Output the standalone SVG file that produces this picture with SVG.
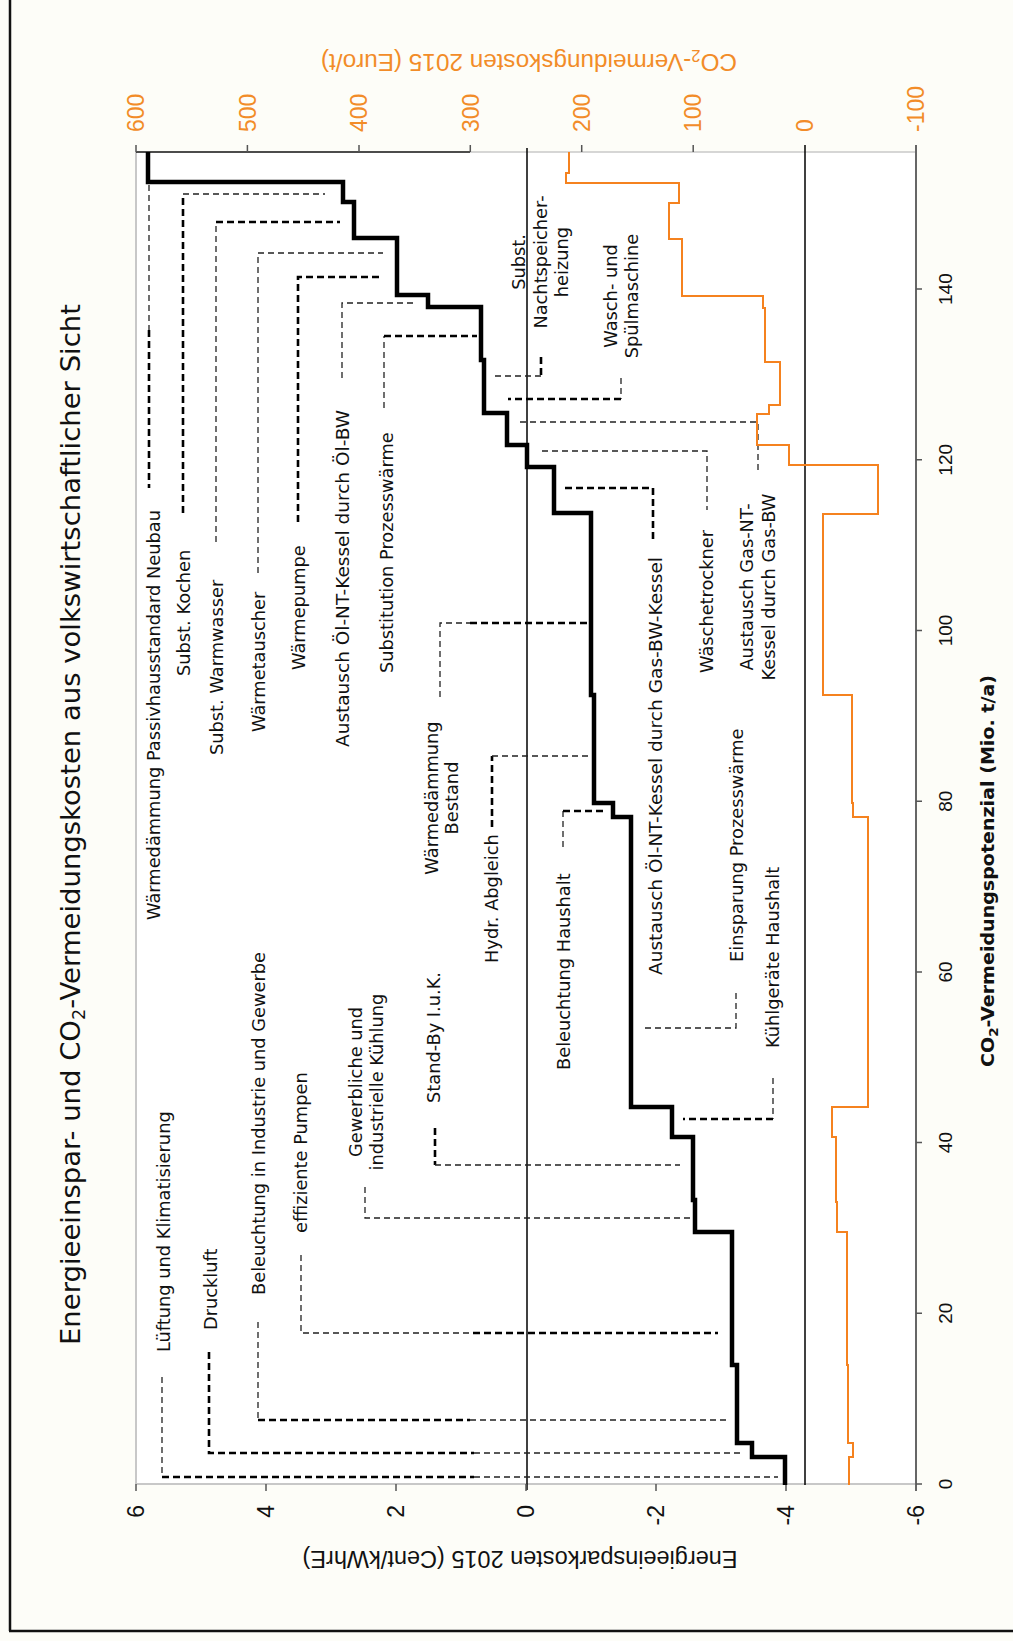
<svg xmlns="http://www.w3.org/2000/svg" width="1013" height="1641" viewBox="0 0 1013 1641">
<style>
.lbl{font-family:"DejaVu Sans",Verdana,sans-serif;font-size:17.8px;fill:#111}
.ttl{font-family:"DejaVu Sans",Verdana,sans-serif;font-size:26.5px;fill:#111}
.xt{font-family:"Liberation Sans",Arial,sans-serif;font-size:19px;fill:#111;text-anchor:middle}
.et{font-family:"Liberation Sans",Arial,sans-serif;font-size:23px;fill:#111;text-anchor:end}
.ot{font-family:"Liberation Sans",Arial,sans-serif;font-size:23px;fill:#f28c28}
.dt{fill:none;stroke:#222;stroke-width:1.3;stroke-dasharray:6 4}
.dk{fill:none;stroke:#000;stroke-width:2.6;stroke-dasharray:7 4}
.tk{stroke:#555;stroke-width:1.5}
</style>
<rect width="1013" height="1641" fill="#fdfdf8"/>
<g id="frame">
<line x1="10" y1="0" x2="10" y2="1631" stroke="#111" stroke-width="2.5"/>
<line x1="9" y1="1631" x2="1013" y2="1631" stroke="#111" stroke-width="2.5"/>
</g>
<g id="plot-area">
<rect x="136" y="152" width="780" height="1332" fill="#ffffff"/>
<line x1="136" y1="152" x2="136" y2="1484" stroke="#c8c8c8" stroke-width="2"/>
<line x1="136" y1="1484" x2="916" y2="1484" stroke="#c8c8c8" stroke-width="2"/>
<line x1="470" y1="152" x2="916" y2="152" stroke="#c8c8c8" stroke-width="1.5"/>
<line x1="136" y1="152" x2="470" y2="152" stroke="#111" stroke-width="1.5"/>
<line x1="916" y1="145" x2="916" y2="1491" stroke="#666" stroke-width="2"/>
<line x1="527" y1="148" x2="527" y2="1490" stroke="#000" stroke-width="1.5"/>
<line x1="805" y1="145" x2="805" y2="1485" stroke="#000" stroke-width="1.5"/>
</g>
<g id="ticks">
<path class="tk" d="M916,1484H922M916,1313.3H922M916,1142.6H922M916,971.9H922M916,801.2H922M916,630.5H922M916,459.8H922M916,289.1H922"/>
<path class="tk" d="M136,1484V1491M266,1484V1491M396,1484V1491M526,1484V1491M656,1484V1491M786,1484V1491"/>
<path class="tk" d="M136,145V152M247.4,145V152M359,145V152M470.3,145V152M581.7,145V152M693.2,145V152"/>
</g>
<g id="tick-labels">
<text class="xt" transform="translate(952,1484) rotate(-90)">0</text>
<text class="xt" transform="translate(952,1313.3) rotate(-90)">20</text>
<text class="xt" transform="translate(952,1142.6) rotate(-90)">40</text>
<text class="xt" transform="translate(952,971.9) rotate(-90)">60</text>
<text class="xt" transform="translate(952,801.2) rotate(-90)">80</text>
<text class="xt" transform="translate(952,630.5) rotate(-90)">100</text>
<text class="xt" transform="translate(952,459.8) rotate(-90)">120</text>
<text class="xt" transform="translate(952,289.1) rotate(-90)">140</text>
<text class="et" transform="translate(144,1505) rotate(-90)">6</text>
<text class="et" transform="translate(274,1505) rotate(-90)">4</text>
<text class="et" transform="translate(404,1505) rotate(-90)">2</text>
<text class="et" transform="translate(534,1505) rotate(-90)">0</text>
<text class="et" transform="translate(664,1505) rotate(-90)">-2</text>
<text class="et" transform="translate(794,1505) rotate(-90)">-4</text>
<text class="et" transform="translate(924,1505) rotate(-90)">-6</text>
<text class="ot" transform="translate(144.2,132) rotate(-90)">600</text>
<text class="ot" transform="translate(255.6,132) rotate(-90)">500</text>
<text class="ot" transform="translate(367.2,132) rotate(-90)">400</text>
<text class="ot" transform="translate(478.5,132) rotate(-90)">300</text>
<text class="ot" transform="translate(589.9,132) rotate(-90)">200</text>
<text class="ot" transform="translate(701.4,132) rotate(-90)">100</text>
<text class="ot" transform="translate(812.8,132) rotate(-90)">0</text>
<text class="ot" transform="translate(924.2,132) rotate(-90)">-100</text>
</g>
<g id="axis-titles">
<text class="ttl" transform="translate(80,1345) rotate(-90)" textLength="1041" lengthAdjust="spacingAndGlyphs">Energieeinspar- und CO<tspan font-size="17" dy="5">2</tspan><tspan dy="-5">-Vermeidungskosten aus volkswirtschaftlicher Sicht</tspan></text>
<text transform="translate(994,1067) rotate(-90)" font-family="DejaVu Sans,Verdana,sans-serif" font-weight="bold" font-size="17" fill="#111" textLength="392" lengthAdjust="spacingAndGlyphs">CO<tspan font-size="12" dy="4">2</tspan><tspan dy="-4">-Vermeidungspotenzial (Mio. t/a)</tspan></text>
<text transform="translate(520,1551) rotate(180)" font-family="Liberation Sans,Arial,sans-serif" font-size="23.5" fill="#111" text-anchor="middle" textLength="435" lengthAdjust="spacingAndGlyphs">Energieeinsparkosten 2015 (Cent/kWhrE)</text>
<text transform="translate(529,54) rotate(180)" font-family="Liberation Sans,Arial,sans-serif" font-size="23.5" fill="#f28c28" text-anchor="middle" textLength="416" lengthAdjust="spacingAndGlyphs">CO<tspan font-size="16" dy="4">2</tspan><tspan dy="-4">-Vermeidungskosten 2015 (Euro/t)</tspan></text>
</g>
<g id="connectors">
<path class="dt" d="M149,185V330"/><path class="dk" d="M149,330V488"/>
<path class="dk" d="M183,513V194"/><path class="dt" d="M183,194H325"/>
<path class="dt" d="M216,542V222"/><path class="dk" d="M216,222H340"/>
<path class="dt" d="M258,573V253H383"/>
<path class="dk" d="M298,522V277H382"/>
<path class="dt" d="M342,378V303H417"/>
<path class="dt" d="M384,408V336"/><path class="dk" d="M384,336H477"/>
<path class="dk" d="M541,357V376"/><path class="dt" d="M541,376H495"/>
<path class="dt" d="M621,378V399"/><path class="dk" d="M621,399H508"/>
<path class="dt" d="M520,422H758V472"/>
<path class="dt" d="M542,451H707V510"/>
<path class="dk" d="M565,488H653V540"/>
<path class="dt" d="M440,697V623H470"/><path class="dk" d="M470,623H588"/>
<path class="dk" d="M492,827V756"/><path class="dt" d="M492,756H591"/>
<path class="dt" d="M563,847V811"/><path class="dk" d="M563,811H607"/>
<path class="dt" d="M736,993V1028H642"/>
<path class="dt" d="M773,1078V1119"/><path class="dk" d="M773,1119H683"/>
<path class="dk" d="M435,1128V1165"/><path class="dt" d="M435,1165H680"/>
<path class="dt" d="M365,1187V1218H692"/>
<path class="dt" d="M301,1255V1333H473"/><path class="dk" d="M473,1333H718"/>
<path class="dt" d="M258,1322V1420"/><path class="dk" d="M258,1420H470"/><path class="dt" d="M470,1420H727"/>
<path class="dk" d="M209,1352V1453H474"/><path class="dt" d="M474,1453H740"/>
<path class="dt" d="M162,1377V1477"/><path class="dk" d="M162,1477H474"/><path class="dt" d="M474,1477H778"/>
</g>
<g id="series">
<path id="energy-cost" fill="none" stroke="#000" stroke-width="4.5" stroke-linejoin="miter" d="M785,1485V1457H752V1443H737V1365H732V1232H695V1200H693V1137H672V1107H631V817H613V803H594V695H591V513H554V467H527V445H507V413H484V360H481V307H428V295H397V238H354V202H343V182H148V152"/>
<path id="co2-cost" fill="none" stroke="#f5821f" stroke-width="2" d="M849,1485V1457H853V1443H848V1365H847V1232H837V1202H836V1137H832V1107H868V817H853V803H852V695H823V514H878V465H789V445H757V414H769V405H780V362H765V308H763V296H682V239H669V203H679V183H566V173H569V152"/>
</g>
<g id="labels">
<text class="lbl" transform="translate(160,920) rotate(-90)">Wärmedämmung Passivhausstandard Neubau</text>
<text class="lbl" transform="translate(190,676) rotate(-90)">Subst. Kochen</text>
<text class="lbl" transform="translate(223,755) rotate(-90)">Subst. Warmwasser</text>
<text class="lbl" transform="translate(265,732) rotate(-90)">Wärmetauscher</text>
<text class="lbl" transform="translate(305,670) rotate(-90)">Wärmepumpe</text>
<text class="lbl" transform="translate(349,747) rotate(-90)" textLength="337" lengthAdjust="spacingAndGlyphs">Austausch Öl-NT-Kessel durch Öl-BW</text>
<text class="lbl" transform="translate(393,673) rotate(-90)">Substitution Prozesswärme</text>
<text class="lbl" text-anchor="middle" transform="translate(438,798) rotate(-90)">Wärmedämmung</text>
<text class="lbl" text-anchor="middle" transform="translate(458,798) rotate(-90)">Bestand</text>
<text class="lbl" transform="translate(498,963) rotate(-90)">Hydr. Abgleich</text>
<text class="lbl" text-anchor="middle" transform="translate(525,262) rotate(-90)">Subst.</text>
<text class="lbl" text-anchor="middle" transform="translate(547,262) rotate(-90)">Nachtspeicher-</text>
<text class="lbl" text-anchor="middle" transform="translate(568,262) rotate(-90)">heizung</text>
<text class="lbl" text-anchor="middle" transform="translate(617,296) rotate(-90)">Wasch- und</text>
<text class="lbl" text-anchor="middle" transform="translate(638,296) rotate(-90)">Spülmaschine</text>
<text class="lbl" transform="translate(662,975) rotate(-90)" textLength="418" lengthAdjust="spacingAndGlyphs">Austausch Öl-NT-Kessel durch Gas-BW-Kessel</text>
<text class="lbl" transform="translate(713,673) rotate(-90)">Wäschetrockner</text>
<text class="lbl" text-anchor="middle" transform="translate(753,587) rotate(-90)">Austausch Gas-NT-</text>
<text class="lbl" text-anchor="middle" transform="translate(775,587) rotate(-90)">Kessel durch Gas-BW</text>
<text class="lbl" transform="translate(743,962) rotate(-90)">Einsparung Prozesswärme</text>
<text class="lbl" transform="translate(570,1070) rotate(-90)">Beleuchtung Haushalt</text>
<text class="lbl" transform="translate(779,1048) rotate(-90)">Kühlgeräte Haushalt</text>
<text class="lbl" transform="translate(170,1352) rotate(-90)">Lüftung und Klimatisierung</text>
<text class="lbl" transform="translate(217,1330) rotate(-90)">Druckluft</text>
<text class="lbl" transform="translate(265,1295) rotate(-90)">Beleuchtung in Industrie und Gewerbe</text>
<text class="lbl" transform="translate(307,1233) rotate(-90)">effiziente Pumpen</text>
<text class="lbl" text-anchor="middle" transform="translate(362,1082) rotate(-90)">Gewerbliche und</text>
<text class="lbl" text-anchor="middle" transform="translate(383,1082) rotate(-90)">industrielle Kühlung</text>
<text class="lbl" transform="translate(440,1103) rotate(-90)">Stand-By I.u.K.</text>
</g>
</svg>
